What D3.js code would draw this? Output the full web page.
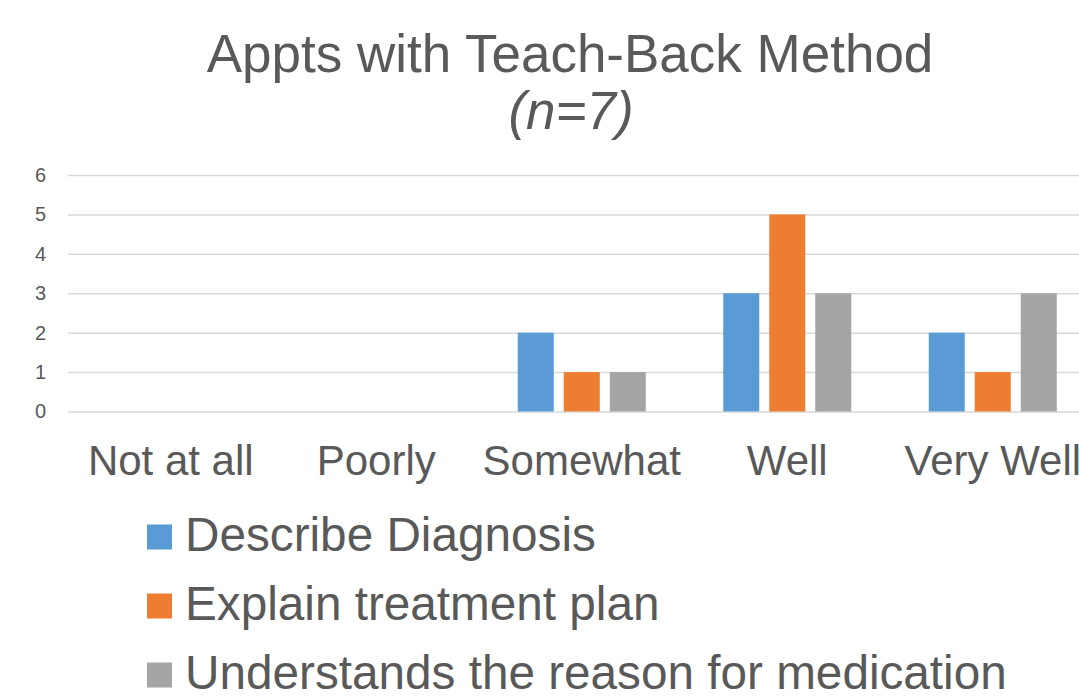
<!DOCTYPE html>
<html>
<head>
<meta charset="utf-8">
<script src="https://cdn.jsdelivr.net/npm/d3@7"></script>
<style>
  html, body { margin: 0; padding: 0; background: #fff; overflow: hidden; }
  svg text { font-family: "Liberation Sans", Arial, sans-serif; fill: #595959; }
</style>
</head>
<body>
<div id="chart"></div>
<script>
// 数据
const categories = ['Not at all', 'Poorly', 'Somewhat', 'Well', 'Very Well'];
const seriesNames = ['Describe Diagnosis', 'Explain treatment plan', 'Understands the reason for medication'];
const describeDiagnosis = [0, 0, 2, 3, 2];
const explainPlan = [0, 0, 1, 5, 1];
const understandsMedication = [0, 0, 1, 3, 3];
const yTicks = [0, 1, 2, 3, 4, 5, 6];
const colors = ['#5B9BD5', '#ED7D31', '#A5A5A5'];

const seriesValues = [describeDiagnosis, explainPlan, understandsMedication];

const W = 1079, H = 698;

const svg = d3.select('#chart')
    .append('svg')
    .attr('width', W)
    .attr('height', H);

// 比例尺 (plot runs past the right edge, as in the original crop)
const plotLeft = 68, plotRight = 1095.5;
const x0 = d3.scaleBand()
    .domain(categories)
    .range([plotLeft, plotRight])
    .padding(0);

const x1 = d3.scaleBand()
    .domain(seriesNames)
    .range([0, x0.bandwidth()])
    .paddingInner(0.217)
    .paddingOuter(0.842);

const y = d3.scaleLinear()
    .domain([0, 6])
    .range([411.5, 175]);

// 网格线
const grid = svg.append('g')
    .attr('transform', `translate(${plotLeft},0)`)
    .call(d3.axisLeft(y)
        .tickValues(yTicks)
        .tickSize(-(plotRight - plotLeft))
        .tickFormat(''));
grid.select('.domain').remove();
grid.selectAll('.tick line')
    .attr('stroke', '#D9D9D9')
    .attr('stroke-width', 1.5);

// Y轴标签
const yAxis = svg.append('g')
    .attr('transform', 'translate(46,0)')
    .call(d3.axisLeft(y).tickValues(yTicks).tickFormat(d3.format('d')).tickSize(0).tickPadding(0));
yAxis.select('.domain').remove();
yAxis.selectAll('text')
    .style('font-size', '20px')
    .style('font-family', '"Liberation Sans", Arial, sans-serif')
    .attr('fill', '#595959');

// 柱状图
const groups = svg.append('g')
    .selectAll('g')
    .data(categories)
    .join('g')
    .attr('transform', d => `translate(${x0(d)},0)`);

groups.selectAll('rect')
    .data((c, i) => seriesNames.map((s, k) => ({ s, k, v: seriesValues[k][i] })))
    .join('rect')
    .filter(d => d.v > 0)
    .attr('x', d => x1(d.s))
    .attr('y', d => y(d.v))
    .attr('width', x1.bandwidth())
    .attr('height', d => y(0) - y(d.v))
    .attr('fill', d => colors[d.k]);

// X轴标签
svg.append('g')
    .selectAll('text')
    .data(categories)
    .join('text')
    .attr('x', d => x0(d) + x0.bandwidth() / 2)
    .attr('y', 475)
    .attr('text-anchor', 'middle')
    .style('font-size', '42px')
    .text(d => d);

// 标题
svg.append('text')
    .attr('x', 570)
    .attr('y', 72)
    .attr('text-anchor', 'middle')
    .style('font-size', '53px')
    .text('Appts with Teach-Back Method');

svg.append('text')
    .attr('x', 571)
    .attr('y', 129)
    .attr('text-anchor', 'middle')
    .style('font-size', '53px')
    .style('font-style', 'italic')
    .text('(n=7)');

// 图例
const legend = svg.append('g')
    .selectAll('g')
    .data(seriesNames)
    .join('g')
    .attr('transform', (d, i) => `translate(147,${537 + i * 69})`);

legend.append('rect')
    .attr('x', 0)
    .attr('y', -12.5)
    .attr('width', 25)
    .attr('height', 25)
    .attr('fill', (d, i) => colors[i]);

legend.append('text')
    .attr('x', 38)
    .attr('y', 14)
    .style('font-size', '47.7px')
    .text(d => d);
</script>
</body>
</html>
